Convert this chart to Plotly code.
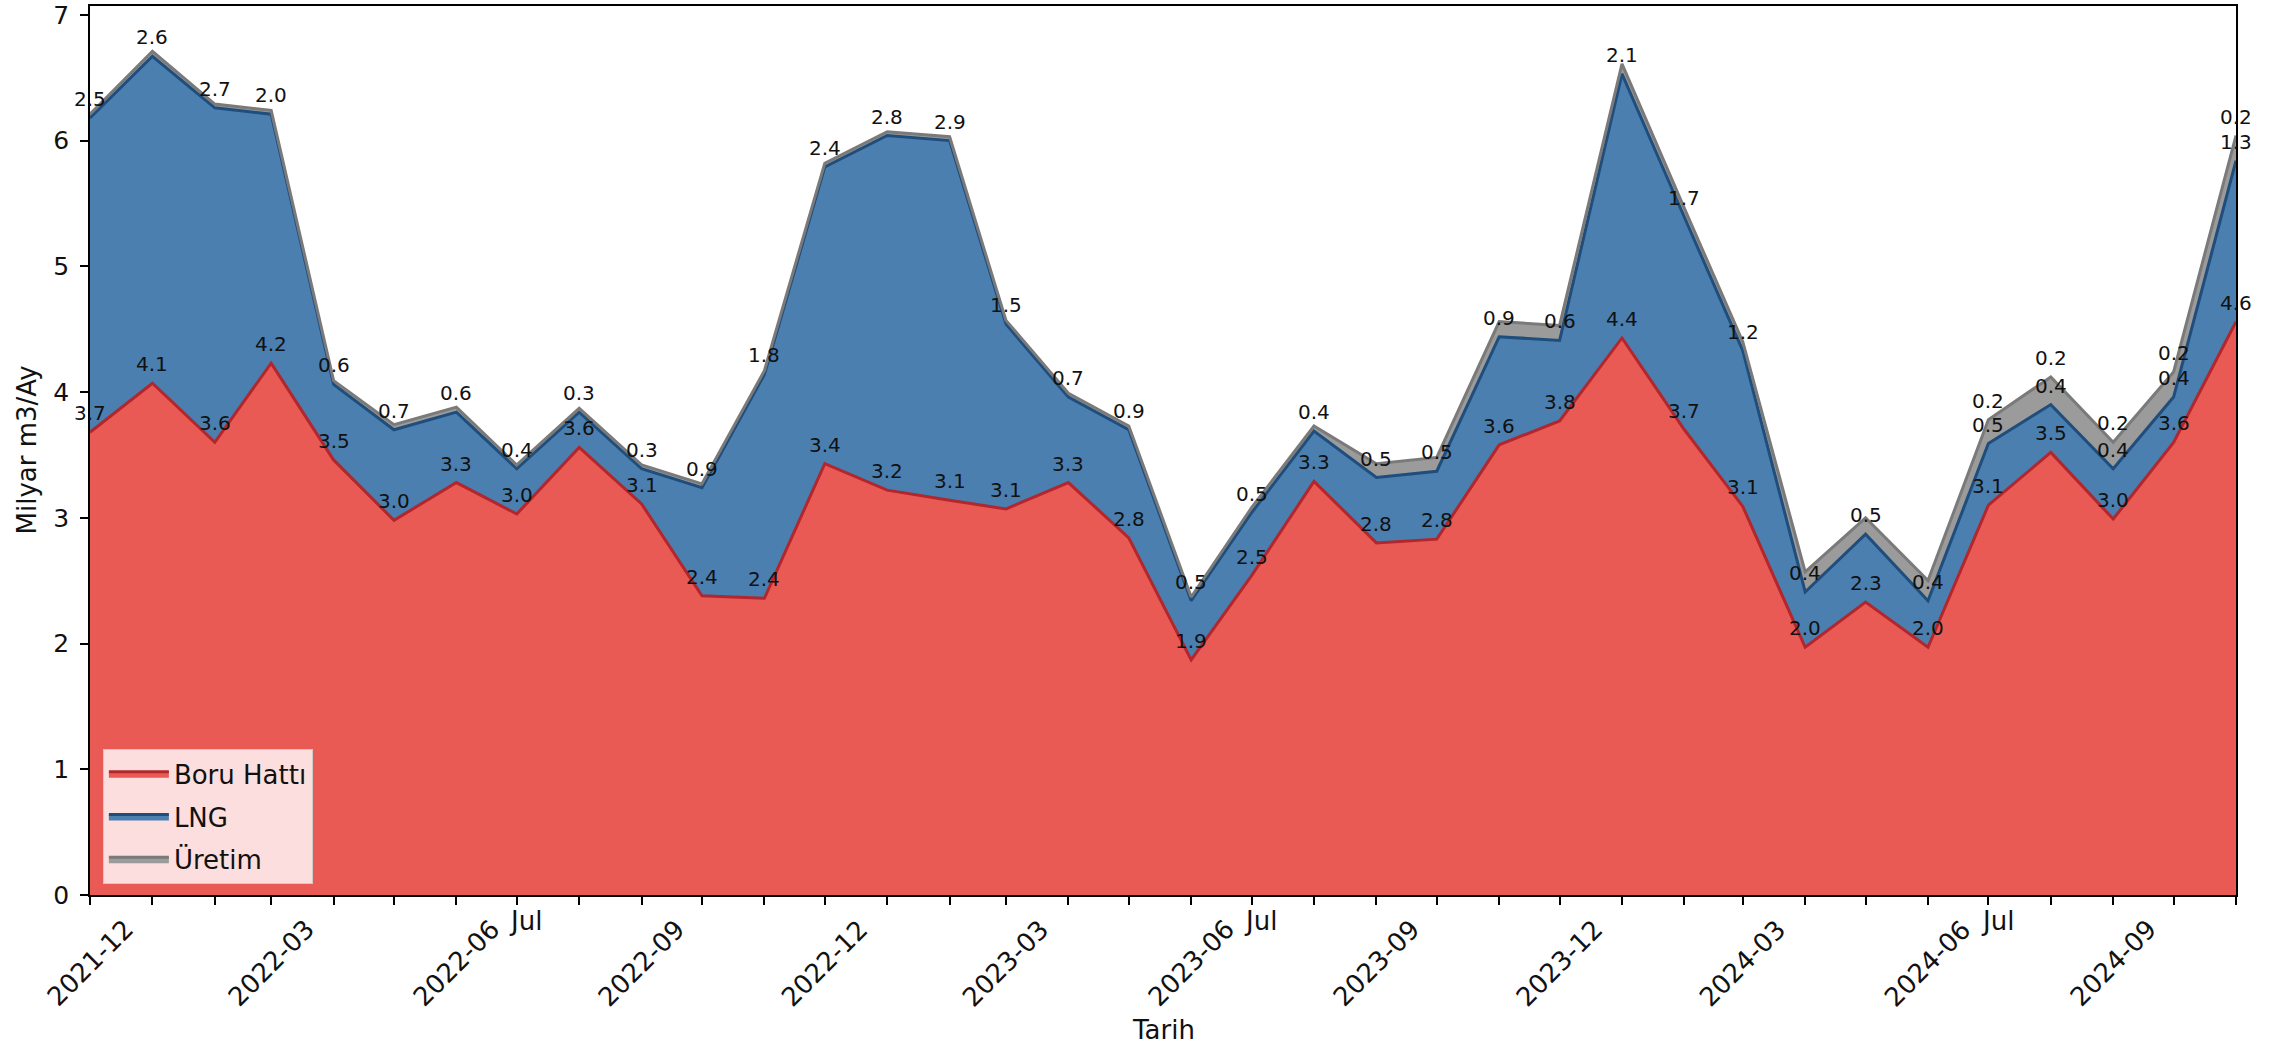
import plotly.graph_objects as go
import pandas as pd

months = ["2021-12", "2022-01", "2022-02", "2022-03", "2022-04", "2022-05", "2022-06",
          "2022-07", "2022-08", "2022-09", "2022-10", "2022-11", "2022-12", "2023-01",
          "2023-02", "2023-03", "2023-04", "2023-05", "2023-06", "2023-07", "2023-08",
          "2023-09", "2023-10", "2023-11", "2023-12", "2024-01", "2024-02", "2024-03",
          "2024-04", "2024-05", "2024-06", "2024-07", "2024-08", "2024-09", "2024-10",
          "2024-11"]

boru = [3.68, 4.07, 3.60, 4.23, 3.46, 2.98, 3.28, 3.03, 3.56, 3.11, 2.38, 2.36,
        3.43, 3.22, 3.14, 3.07, 3.28, 2.84, 1.87, 2.54, 3.29, 2.80, 2.83, 3.58,
        3.77, 4.43, 3.70, 3.09, 1.97, 2.33, 1.97, 3.10, 3.52, 2.99, 3.60, 4.56]
lng = [2.50, 2.60, 2.66, 1.98, 0.60, 0.72, 0.56, 0.36, 0.28, 0.28, 0.86, 1.78,
       2.36, 2.82, 2.86, 1.47, 0.68, 0.86, 0.47, 0.50, 0.40, 0.52, 0.54, 0.86,
       0.64, 2.10, 1.69, 1.24, 0.44, 0.54, 0.37, 0.49, 0.38, 0.40, 0.36, 1.28]
uretim = [0.03, 0.04, 0.03, 0.03, 0.03, 0.04, 0.04, 0.03, 0.03, 0.03, 0.03, 0.03,
          0.03, 0.03, 0.03, 0.03, 0.03, 0.03, 0.03, 0.04, 0.04, 0.11, 0.11, 0.12,
          0.12, 0.08, 0.07, 0.07, 0.16, 0.13, 0.16, 0.19, 0.22, 0.21, 0.20, 0.20]

series_names = ["Boru Hattı", "LNG", "Üretim"]
major_labels = ["2021-12", "2022-03", "2022-06", "2022-09", "2022-12", "2023-03",
                "2023-06", "2023-09", "2023-12", "2024-03", "2024-06", "2024-09"]
minor_labels = {"2022-07": "Jul", "2023-07": "Jul", "2024-07": "Jul"}
y_title = "Milyar m3/Ay"
x_title = "Tarih"

FONT = "DejaVu Sans"
FS = 26
fills = ["#E95A55", "#4A7FB0", "#9B9B9B"]
lines = ["#B3262B", "#1F4E7D", "#7A7A7A"]

x = pd.to_datetime([m + "-01" for m in months])

fig = go.Figure()
for i, (name, vals) in enumerate(zip(series_names, [boru, lng, uretim])):
    fig.add_trace(go.Scatter(
        x=x, y=vals, name=name, mode="lines", stackgroup="one",
        fillcolor=fills[i], line=dict(color=lines[i], width=3),
        legendgroup=name, hoverinfo="skip",
    ))

annotations = []
# value labels at cumulative heights
cum = [0.0] * len(months)
for vals in [boru, lng, uretim]:
    for j, v in enumerate(vals):
        cum[j] += v
        if v >= 0.18:
            annotations.append(dict(
                x=x[j], y=cum[j], xref="x", yref="y", text=f"{v:.1f}",
                showarrow=False, xanchor="center", yanchor="middle", yshift=19,
                font=dict(family=FONT, size=20, color="#111111"),
            ))

# rotated date labels
for lab in major_labels:
    annotations.append(dict(
        x=pd.to_datetime(lab + "-01"), y=0, xref="x", yref="paper",
        text=lab, textangle=-45, showarrow=False, xanchor="center",
        yanchor="middle", yshift=-68,
        font=dict(family=FONT, size=FS, color="#111111"),
    ))
for m, lab in minor_labels.items():
    annotations.append(dict(
        x=pd.to_datetime(m + "-01"), y=0, xref="x", yref="paper",
        text=lab, showarrow=False, xanchor="center", yanchor="top",
        yshift=-9, xshift=9,
        font=dict(family=FONT, size=FS, color="#111111"),
    ))

# axis titles
annotations.append(dict(
    x=0.5, y=0, xref="paper", yref="paper", text=x_title, showarrow=False,
    xanchor="center", yanchor="middle", yshift=-135,
    font=dict(family=FONT, size=FS, color="#111111"),
))
annotations.append(dict(
    x=0, y=0.5, xref="paper", yref="paper", text=y_title, showarrow=False,
    xanchor="center", yanchor="middle", xshift=-64, textangle=-90,
    font=dict(family=FONT, size=FS, color="#111111"),
))

fig.update_layout(
    width=2285, height=1049,
    margin=dict(l=90, r=49, t=6, b=154, autoexpand=False),
    paper_bgcolor="white", plot_bgcolor="white",
    font=dict(family=FONT, size=FS, color="#111111"),
    showlegend=True,
    legend=dict(
        x=0.006, y=0.012, xanchor="left", yanchor="bottom",
        bgcolor="rgba(255,255,255,0.8)", bordercolor="#cccccc", borderwidth=1,
        font=dict(family=FONT, size=FS, color="#111111"),
        traceorder="grouped", tracegroupgap=6, itemwidth=60,
    ),
    annotations=annotations,
)
fig.update_xaxes(
    type="date", range=[x[0], x[-1]],
    tickmode="array", tickvals=list(x), ticktext=[""] * len(x),
    ticks="outside", ticklen=8, tickwidth=1.6, tickcolor="black",
    showline=True, linecolor="black", linewidth=1.6, mirror=True,
    showgrid=False, zeroline=False,
)
fig.update_yaxes(
    range=[0, 7.07], tickmode="linear", tick0=0, dtick=1,
    ticks="outside", ticklen=8, tickwidth=1.6, tickcolor="black",
    showline=True, linecolor="black", linewidth=1.6, mirror=True,
    showgrid=False, zeroline=False, ticklabelstandoff=6,
    ticklabeloverflow="allow",
    tickfont=dict(family=FONT, size=25, color="#111111"),
)

fig.write_html(
    "out.html",
    config={"displayModeBar": False},
    post_script="document.body.style.margin='0';document.body.style.padding='0';",
)
